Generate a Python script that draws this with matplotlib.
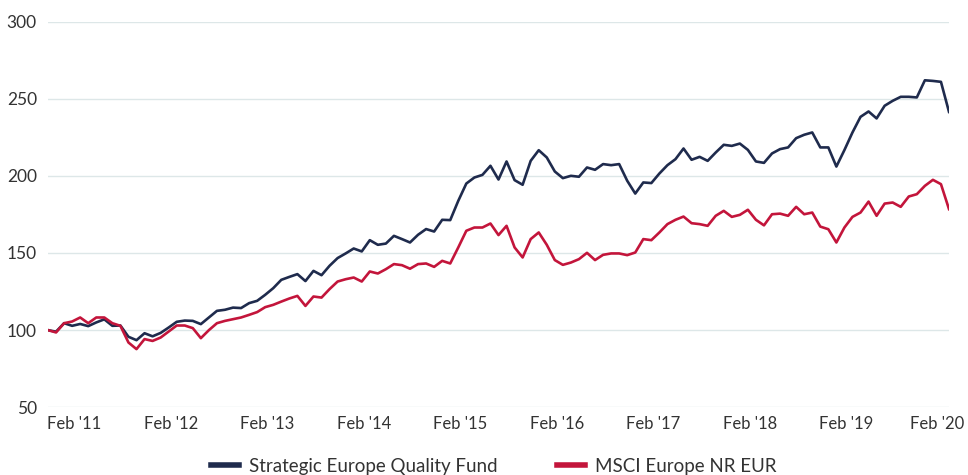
import matplotlib
matplotlib.use('Agg')
from matplotlib import pyplot as plt
import numpy as np

# monthly index values, Feb 2011 = 100
fund = [100, 99, 104.5, 102.8, 104, 102.6, 105, 107, 102.8, 103,
        95.7, 93.5, 98, 96, 98.2, 101.7, 105.4, 106.2, 106, 103.9,
        108.2, 112.5, 113.2, 114.6, 114.3, 117.5, 119, 122.9, 127.2, 132.6,
        134.5, 136.3, 131.8, 138.4, 135.6, 141.7, 146.7, 149.7, 152.9, 151,
        158.3, 155.3, 156.1, 161.1, 159, 156.8, 161.8, 165.5, 163.9, 171.5,
        171.3, 183.8, 195, 198.9, 200.6, 206.5, 197.6, 209.3, 197.2, 194.2,
        209.7, 216.6, 211.9, 202.8, 198.5, 200, 199.4, 205.4, 203.9, 207.6,
        206.9, 207.6, 196.8, 188.5, 195.7, 195.3, 201.5, 206.9, 210.8, 217.7,
        210.4, 212.3, 209.7, 215.1, 220.1, 219.4, 220.9, 216.8, 209.3, 208.4,
        214.5, 217.3, 218.4, 224.4, 226.6, 228.1, 218.4, 218.4, 206, 216.7,
        228.1, 238.2, 241.7, 237.2, 245.4, 248.6, 251.2, 251.2, 250.8, 261.9,
        261.5, 260.9, 241.4]
msci = [100, 98.5, 104.5, 105.6, 108.2, 104.5, 108.2, 108.2, 104.5, 102.8,
        92, 87.7, 94.2, 93, 95.2, 99.1, 103, 103, 101.3, 94.8,
        100, 104.5, 106, 107.1, 108.2, 109.9, 111.7, 114.9, 116.4, 118.5,
        120.5, 122.2, 115.7, 121.8, 121.1, 126.6, 131.5, 133, 134.1, 131.5,
        138, 136.7, 139.5, 142.8, 142.1, 139.8, 142.8, 143.2, 141, 144.9,
        143.2, 153.6, 164.4, 166.5, 166.5, 169.1, 161.6, 167.6, 153.6, 147.1,
        159, 163.3, 155.3, 145.4, 142.3, 143.8, 146, 150.1, 145.4, 148.8,
        149.7, 149.7, 148.6, 150.3, 159, 158.3, 163.3, 168.7, 171.5, 173.6,
        169.3, 168.7, 167.6, 174.1, 177.3, 173.4, 174.7, 178, 171.5, 167.9,
        175.1, 175.5, 174.1, 179.9, 175.1, 176.2, 167.1, 165.4, 156.8, 166.5,
        173.4, 176.2, 183.3, 174.1, 182, 182.7, 179.9, 186.6, 188.1, 193.5,
        197.4, 194.6, 178.4]
tick_labels = ["Feb '11", "Feb '12", "Feb '13", "Feb '14", "Feb '15",
               "Feb '16", "Feb '17", "Feb '18", "Feb '19", "Feb '20"]
yticks = [50, 100, 150, 200, 250, 300]

navy = '#1f2b4d'
red = '#c3153b'
txt = '#333333'
plt.rcParams['font.family'] = ['Lato', 'DejaVu Sans']

fig = plt.figure(figsize=(9.68, 4.75), dpi=100)
ax = fig.add_axes([48/968, (475-407.3)/475, (949-48)/968, (407.3-21.5)/475])

x = np.arange(len(fund))
ax.plot(x, fund, color=navy, lw=1.9, label='Strategic Europe Quality Fund')
ax.plot(x, msci, color=red, lw=1.9, label='MSCI Europe NR EUR')

ax.set_xlim(0, len(fund)-1)
ax.set_ylim(50, 300)
ax.set_yticks(yticks)
ax.set_yticklabels([str(v) for v in yticks], fontsize=12.5, color=txt)
ax.set_xticks([])
# month labels, left-aligned at each February; the last one nudged in to stay on the canvas
for i, lab in enumerate(tick_labels):
    dx = -7 if i == len(tick_labels) - 1 else -1
    ax.annotate(lab, xy=(i*12, 0), xycoords=('data', 'axes fraction'),
                xytext=(dx, -9), textcoords='offset pixels',
                ha='left', va='top', fontsize=12, color=txt, annotation_clip=False)
ax.tick_params(axis='both', length=0)
ax.tick_params(axis='y', pad=8)
ax.grid(axis='y', color='#dde7e8', lw=1)
ax.set_axisbelow(True)
for s in ax.spines.values():
    s.set_visible(False)

leg = fig.legend(loc='lower center', bbox_to_anchor=(0.51, -0.035), ncol=2,
                 frameon=False, fontsize=13.5, handlelength=1.5,
                 columnspacing=3.2, handletextpad=0.5)
for h in leg.get_lines():
    h.set_linewidth(4)
for t in leg.get_texts():
    t.set_color(txt)

fig.savefig('out.png', dpi=100)
